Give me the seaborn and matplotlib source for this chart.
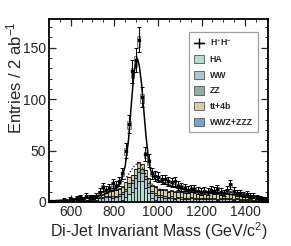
import numpy as np
import pandas as pd
import matplotlib
matplotlib.use("Agg")
import matplotlib.pyplot as plt
from matplotlib.patches import Patch
from matplotlib.lines import Line2D
from matplotlib.ticker import MultipleLocator
import seaborn as sns

# ---------------- data ----------------
bin_width = 15
mass_lo = 500
n_bins = 67

data_counts = [1, 0, 1, 1, 2, 1, 3, 2, 4, 5, 3, 6, 5, 5, 6,
               10, 15, 12, 14, 18, 16, 20, 28, 50, 76,
               127, 138, 158, 102, 47, 40, 28, 25, 24, 22,
               22, 20, 19, 20, 16, 15, 14, 12, 13, 13,
               11, 10, 11, 10, 12, 11, 13, 10, 9, 12,
               17, 11, 9, 9, 7, 8, 6, 6, 5, 4,
               3, 2]

bkg_ha = [0, 0, 0, 0, 0, 0, 0, 0, 0, 0, 0, 0, 0, 0, 0,
          0, 0, 0, 0, 0, 0, 1, 2, 5, 8,
          10, 14, 20, 20, 14, 9, 4, 2, 1, 0,
          0, 0, 0, 0, 0, 0, 0, 0, 0, 0,
          0, 0, 0, 0, 0, 0, 0, 0, 0, 0,
          0, 0, 0, 0, 0, 0, 0, 0, 0, 0,
          0, 0]
bkg_ww = [0, 0, 0, 0, 0, 0, 0, 0, 0.5, 0.5, 0.5, 1, 1, 1, 1.5,
          4, 4, 5, 5, 4, 5, 5, 6, 6, 7,
          8, 9, 9, 8, 8, 6, 5, 5, 4, 5,
          4, 4, 4, 3, 4, 3, 3, 3, 4, 3,
          3, 3, 3, 3, 3, 3, 2, 3, 3, 3,
          3, 2, 3, 2, 2, 2, 2, 1, 1, 1,
          1, 1]
bkg_zz = [0, 0, 0, 0, 0, 0, 0, 0, 0, 0, 0, 0, 0, 0.5, 0.5,
          1, 1, 1, 1, 2, 1, 2, 2, 2, 3,
          3, 3, 4, 4, 3, 3, 2, 2, 2, 2,
          2, 1, 2, 1, 1, 2, 1, 1, 1, 1,
          1, 1, 1, 1, 1, 1, 1, 1, 1, 1,
          1, 1, 1, 1, 1, 1, 0.5, 0.5, 0.5, 0.5,
          0.5, 0.5]
bkg_tt4b = [0, 0, 0, 0, 0, 0, 0, 0.5, 0.5, 1, 1, 1, 1, 1.5, 2,
            5, 5, 6, 5, 5, 6, 5, 5, 6, 6,
            5, 6, 6, 5, 6, 5, 5, 6, 5, 5,
            6, 5, 5, 6, 5, 5, 5, 6, 5, 5,
            6, 5, 5, 5, 6, 5, 5, 6, 5, 5,
            6, 5, 5, 5, 5, 4, 4, 3, 3, 3,
            2, 2]
bkg_wwz = [0, 0, 0, 0, 0, 0, 0, 0, 0, 0, 0, 0, 0, 0, 0,
           0.3, 0.3, 0.3, 0.3, 0.3, 0.3, 0.3, 0.3, 0.3, 0.3,
           0.3, 0.3, 0.3, 0.3, 0.3, 0.3, 0.3, 0.3, 0.3, 0.3,
           0.3, 0.3, 0.3, 0.3, 0.3, 0.3, 0.3, 0.3, 0.3, 0.3,
           0.3, 0.3, 0.3, 0.3, 0.3, 0.3, 0.3, 0.3, 0.3, 0.3,
           0.3, 0.3, 0.3, 0.3, 0.3, 0, 0, 0, 0, 0,
           0, 0]

fit_mass = [500, 600, 700, 750, 800, 830, 850, 865, 880, 890, 900, 907,
            915, 925, 935, 945, 955, 965, 975, 990, 1050, 1100, 1150,
            1200, 1300, 1400, 1500]
fit_vals = [1, 2, 4, 7, 12, 20, 35, 60, 100, 125, 136, 139,
            132, 115, 90, 65, 45, 32, 26, 22, 16, 13, 11,
            10, 8, 6, 4]

bkgfit_mass = [790, 820, 850, 875, 895, 910, 925, 945, 965, 990, 1030]
bkgfit_vals = [13, 16, 22, 30, 36, 38, 35, 27, 19, 14, 11]

process_names = ["HA", "WW", "ZZ", "tt+4b", "WWZ+ZZZ"]
process_colors = ["#b3ddd0", "#b2c4d0", "#8daea4", "#d6cdaa", "#7b9dd8"]
signal_label = "H$^{+}$H$^{-}$"
xlabel = "Di-Jet Invariant Mass (GeV/c$^{2}$)"
ylabel = "Entries / 2 ab$^{-1}$"

# ---------------- build tables ----------------
edges = mass_lo + bin_width * np.arange(n_bins + 1)
centers = edges[:-1] + bin_width / 2
bkg_series = {"HA": bkg_ha, "WW": bkg_ww, "ZZ": bkg_zz,
              "tt+4b": bkg_tt4b, "WWZ+ZZZ": bkg_wwz}
rows = []
for name in process_names:
    for c, w in zip(centers, bkg_series[name]):
        rows.append({"mass": c, "weight": w, "process": name})
bkg_df = pd.DataFrame(rows)

# ---------------- plot ----------------
sns.set_style("ticks")
plt.rcParams["font.family"] = ["Liberation Sans", "DejaVu Sans"]
plt.rcParams["mathtext.fontset"] = "custom"
plt.rcParams["mathtext.rm"] = "Liberation Sans"
plt.rcParams["mathtext.it"] = "Liberation Sans:italic"
plt.rcParams["mathtext.bf"] = "Liberation Sans:bold"

fig = plt.figure(figsize=(2.91, 2.46), dpi=100)
ax = fig.add_axes([0.168, 0.179, 0.753, 0.744])

palette = dict(zip(process_names, process_colors))
sns.histplot(data=bkg_df, x="mass", weights="weight", hue="process",
             hue_order=process_names[::-1], multiple="stack",
             bins=[float(e) for e in edges],
             palette=palette, element="bars", alpha=1.0, edgecolor="black",
             linewidth=0.5, legend=False, ax=ax)

data_arr = np.array(data_counts, dtype=float)
err = np.sqrt(data_arr)
# MC stat boxes
ax.bar(centers, 0.9 * err, bottom=data_arr - 0.6 * err, width=bin_width,
       facecolor="#dcdcdc", edgecolor="#555555", linewidth=0.5, zorder=3)

# background fit (dotted) and total fit curve
bfit_df = pd.DataFrame({"mass": bkgfit_mass, "fit": bkgfit_vals})
sns.lineplot(data=bfit_df, x="mass", y="fit", color="black", linewidth=0.9,
             linestyle=(0, (1, 1.5)), ax=ax, zorder=4)
fit_df = pd.DataFrame({"mass": fit_mass, "fit": fit_vals})
sns.lineplot(data=fit_df, x="mass", y="fit", color="black", linewidth=1.1,
             ax=ax, zorder=5)

# pseudo-data points
ax.errorbar(centers, data_arr, yerr=err, fmt="s", color="black",
            markersize=1.6, elinewidth=0.7, capsize=1.2, capthick=0.7,
            zorder=6)

ax.set_xlim(500, 1505)
ax.set_ylim(0, 178)
ax.set_xlabel(xlabel, fontsize=11.5, labelpad=1)
ax.set_ylabel(ylabel, fontsize=12, loc="top")
ax.yaxis.set_label_coords(-0.11, 0.985)
ax.xaxis.set_major_locator(MultipleLocator(200))
ax.xaxis.set_minor_locator(MultipleLocator(50))
ax.yaxis.set_major_locator(MultipleLocator(50))
ax.yaxis.set_minor_locator(MultipleLocator(10))
ax.set_xticks([600, 800, 1000, 1200, 1400])
ax.xaxis.set_ticks_position("both")
ax.yaxis.set_ticks_position("both")
ax.tick_params(which="both", direction="in", top=True, right=True,
               labelsize=10, pad=2)
ax.tick_params(which="major", length=5, width=0.9)
ax.tick_params(which="minor", length=2.5, width=0.7)
for sp in ax.spines.values():
    sp.set_linewidth(1.3)
    sp.set_color("black")

handles = [Line2D([0], [0], color="black", marker="+", markersize=7,
                  markeredgewidth=1.0, linewidth=1.0)]
handles += [Patch(facecolor=c, edgecolor="#555555", linewidth=0.6)
            for c in process_colors]
labels = [signal_label] + process_names
leg = ax.legend(handles, labels, loc="upper left",
                bbox_to_anchor=(0.64, 0.93), frameon=True, fancybox=False,
                prop={"weight": "bold", "size": 6.3}, handlelength=1.1,
                handleheight=1.1, handletextpad=0.7, labelspacing=0.75,
                borderpad=0.55, borderaxespad=0)
leg.get_frame().set_edgecolor("#888888")
leg.get_frame().set_linewidth(0.9)

fig.savefig("out.png", dpi=100)
